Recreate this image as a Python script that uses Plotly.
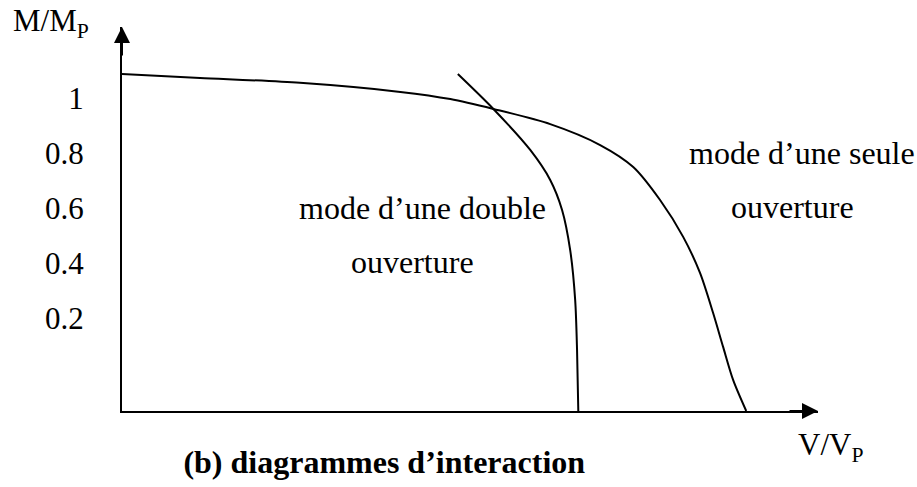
"""Interaction diagram M/Mp versus V/Vp

Two failure modes: double opening and single opening
"""

import plotly.graph_objects as go

# values (y in the units of the tick labels)
single_v = [0.0, 0.125, 0.285, 0.446, 0.526, 0.595, 0.686, 0.766, 0.819,
            0.862, 0.899, 0.926, 0.947, 0.963, 0.979, 1.0]
single_m = [1.087, 1.073, 1.055, 1.022, 0.996, 0.960, 0.905, 0.829, 0.749,
            0.629, 0.495, 0.364, 0.218, 0.095, -0.025, -0.138]

double_v = [0.538, 0.595, 0.654, 0.686, 0.705, 0.718, 0.726, 0.729, 0.731]
double_m = [1.087, 0.960, 0.811, 0.702, 0.593, 0.447, 0.265, 0.084, -0.138]

tick_vals = [1.0, 0.8, 0.6, 0.4, 0.2]
tick_text = ["1", "0.8", "0.6", "0.4", "0.2"]

FONT = "Liberation Serif, Times New Roman, serif"

fig = go.Figure()
for v, m in [(single_v, single_m), (double_v, double_m)]:
    fig.add_scatter(x=v, y=m, mode="lines", showlegend=False,
                    line=dict(color="black", width=2, shape="spline", smoothing=0.8),
                    hoverinfo="skip")

# region labels, one line each so the spacing follows the picture
labels = [
    ("mode d’une double", 0.481, 0.6),
    ("ouverture", 0.465, 0.404),
    ("mode d’une seule", 1.09, 0.8),
    ("ouverture", 1.074, 0.604),
]
for txt, x, y in labels:
    fig.add_annotation(x=x, y=y, text=txt, showarrow=False,
                       xanchor="center", yanchor="middle",
                       font=dict(size=32, color="black", family=FONT))

# axis names
fig.add_annotation(xref="paper", yref="paper", x=-0.16, y=1.01, text="M/M<sub>P</sub>",
                   showarrow=False, xanchor="left", yanchor="middle",
                   font=dict(size=31, color="black", family=FONT))
fig.add_annotation(xref="paper", yref="paper", x=0.969, y=-0.095, text="V/V<sub>P</sub>",
                   showarrow=False, xanchor="left", yanchor="middle",
                   font=dict(size=31, color="black", family=FONT))

# arrow heads on the axes
arrow = dict(text="", showarrow=True, arrowhead=2, arrowsize=1.6, arrowwidth=2,
             arrowcolor="black", xref="paper", yref="paper", standoff=0)
fig.add_annotation(x=0, y=1, ax=0, ay=30, **arrow)
fig.add_annotation(x=1, y=0, ax=-30, ay=0, **arrow)

fig.update_layout(
    width=917, height=487,
    margin=dict(l=122, r=99, t=27, b=76),
    paper_bgcolor="white", plot_bgcolor="white",
    font=dict(family=FONT, color="black", size=31),
    title=dict(text="<b>(b) diagrammes d’interaction</b>",
               x=0.2, xanchor="left", y=0.051, yanchor="middle",
               font=dict(size=32, family=FONT, color="black")),
)

fig.update_xaxes(range=[0, 1.115], showgrid=False, zeroline=False,
                 showline=True, linecolor="black", linewidth=2,
                 showticklabels=False, ticks="")
fig.update_yaxes(range=[-0.138, 1.258], showgrid=False, zeroline=False,
                 showline=True, linecolor="black", linewidth=2,
                 tickvals=tick_vals, ticktext=tick_text, ticks="",
                 ticklabelstandoff=30)

# drop the default page margin so the figure sits at the window corner
fig.write_html("out.html", config={"displayModeBar": False},
               post_script="document.body.style.margin='0';")
